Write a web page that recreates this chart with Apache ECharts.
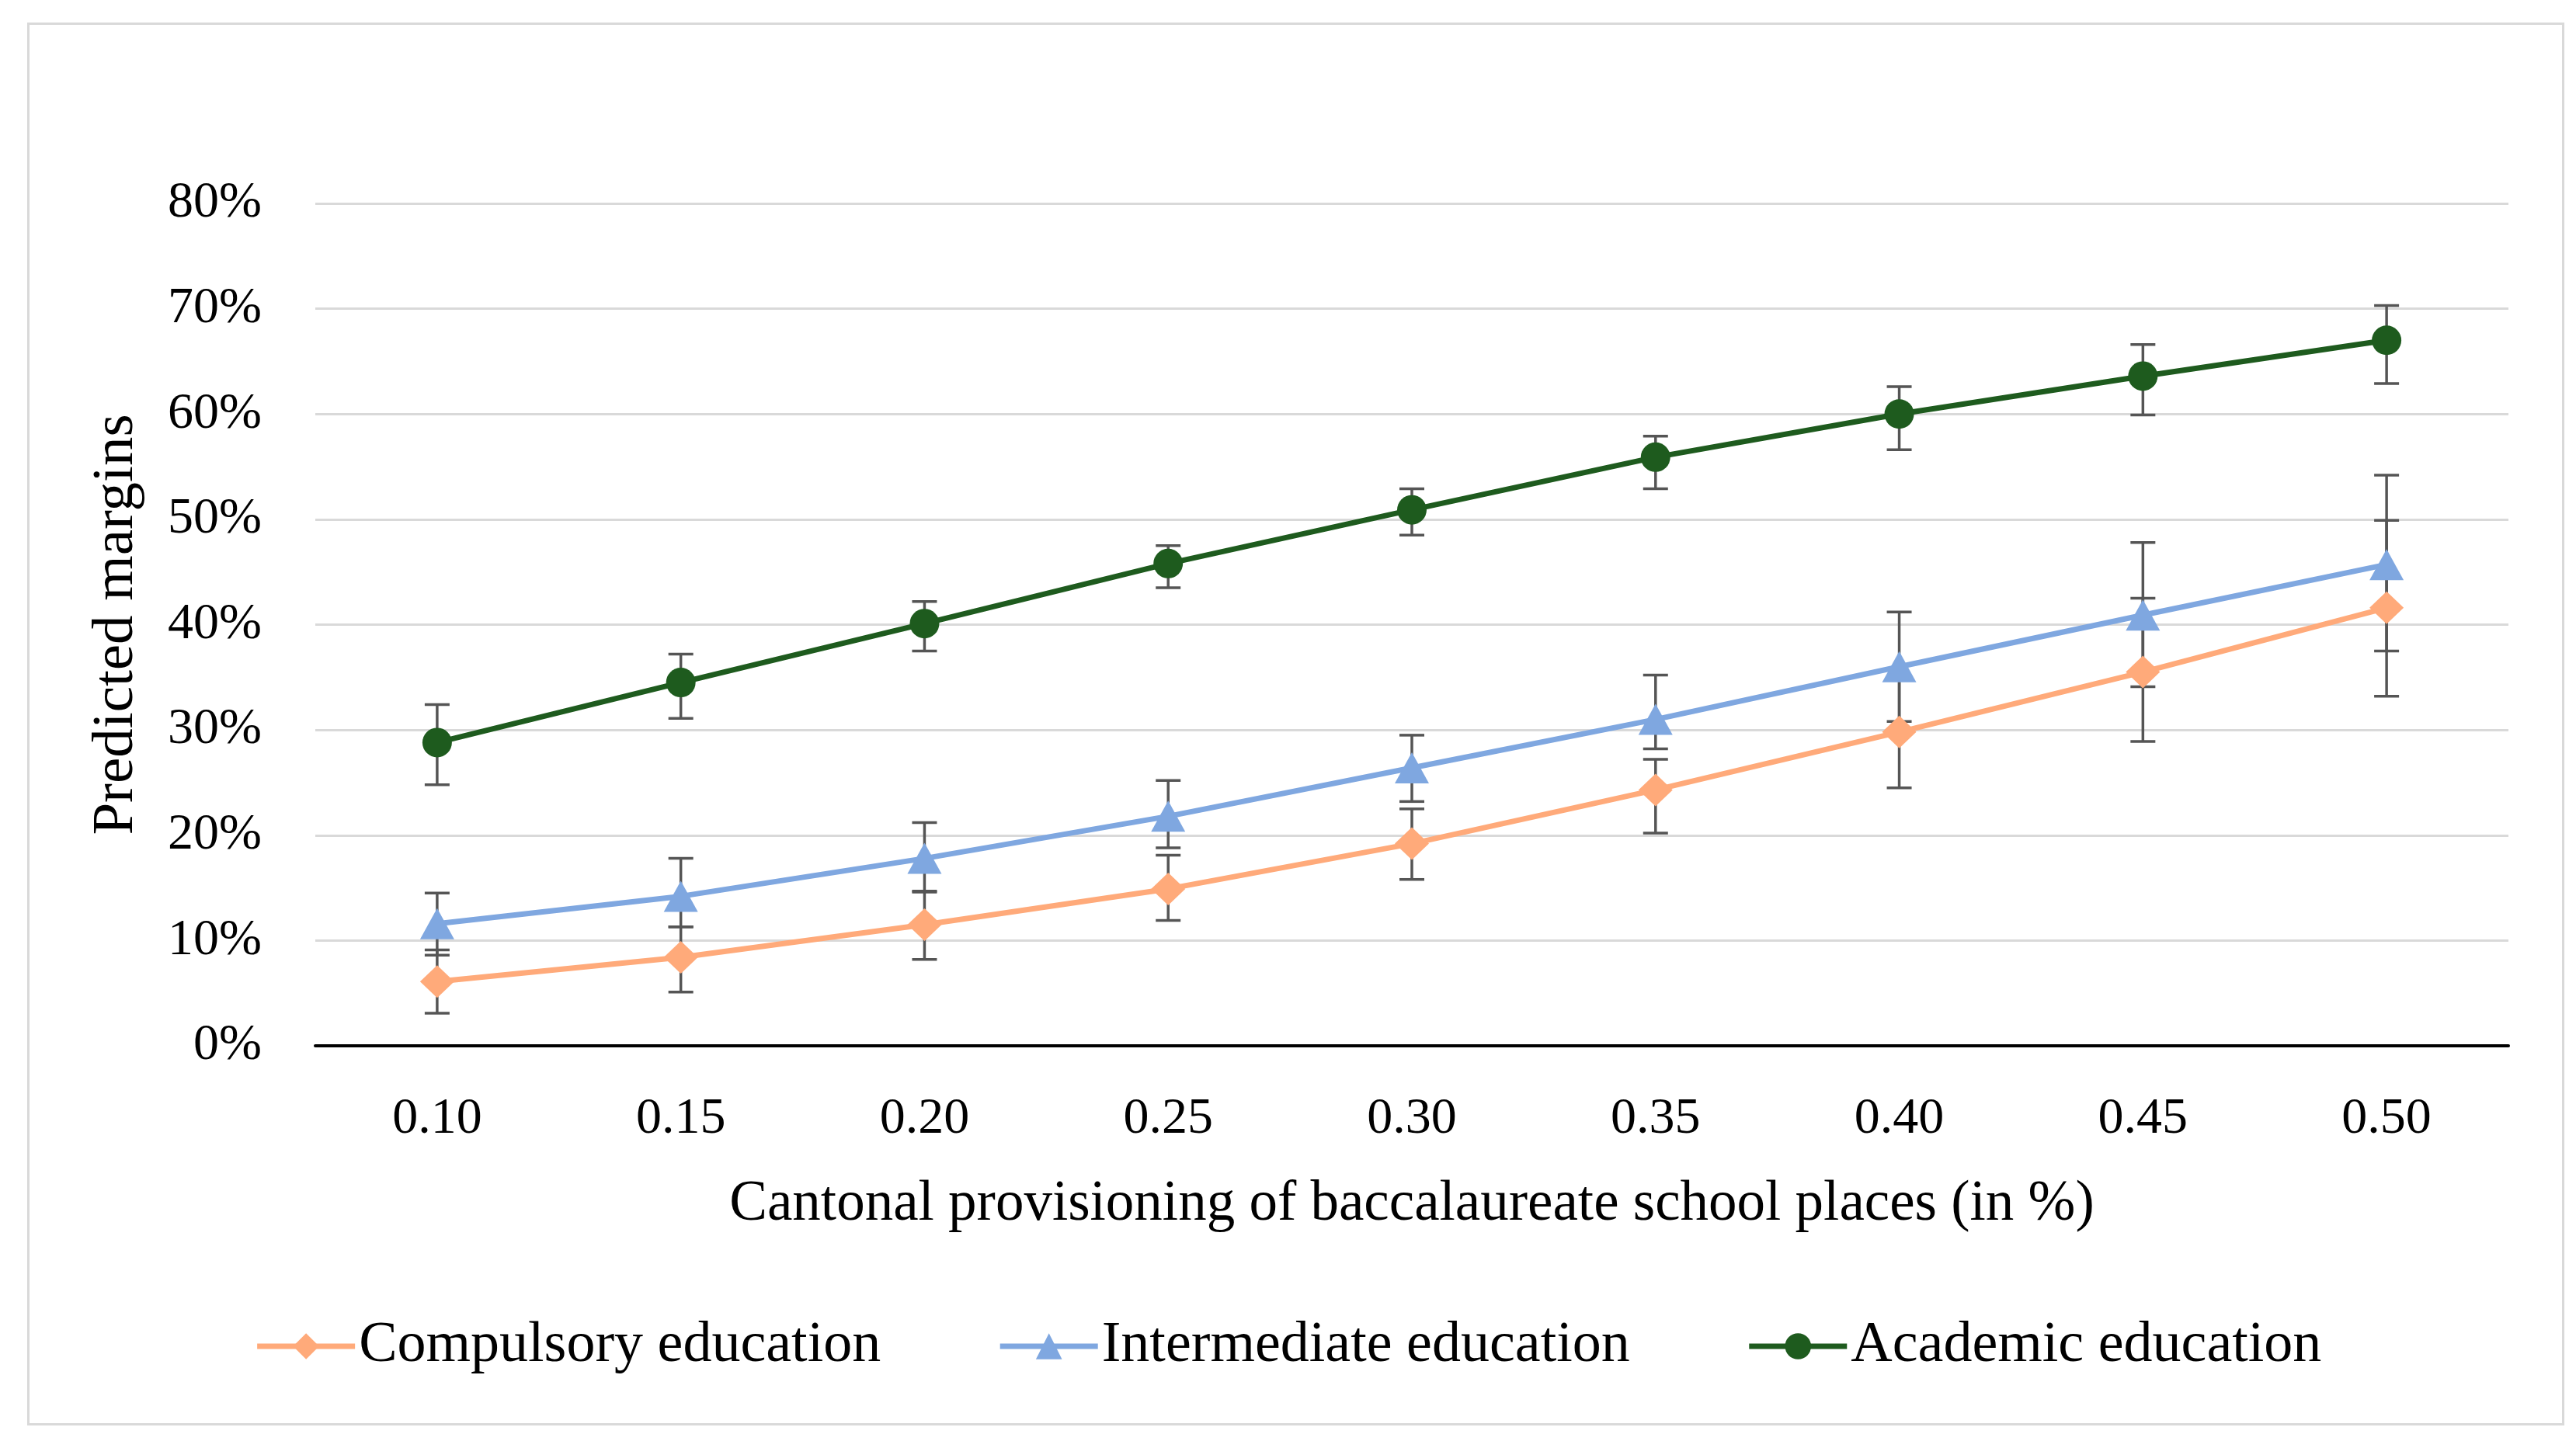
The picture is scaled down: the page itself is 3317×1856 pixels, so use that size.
<!DOCTYPE html>
<html>
<head>
<meta charset="utf-8">
<script src="https://cdn.jsdelivr.net/npm/echarts@6/dist/echarts.min.js"></script>
<style>
html,body{margin:0;padding:0;background:#fff;}
#chart{width:3317px;height:1856px;}
</style>
</head>
<body>
<div id="chart"></div>
<script>
const categories = ['0.10','0.15','0.20','0.25','0.30','0.35','0.40','0.45','0.50'];
const seriesNames = ['Compulsory education','Intermediate education','Academic education'];

const compulsory     = [6.1, 8.4, 11.5, 14.9, 19.2, 24.3, 29.8, 35.5, 41.6];
const compulsoryLow  = [3.1, 5.1, 8.2, 11.9, 15.8, 20.2, 24.5, 28.9, 33.2];
const compulsoryHigh = [9.1, 11.3, 14.7, 18.1, 22.5, 27.2, 35.1, 42.5, 49.9];

const intermediate     = [11.6, 14.2, 17.8, 21.8, 26.4, 31.0, 36.0, 40.9, 45.7];
const intermediateLow  = [8.6, 11.3, 14.6, 18.8, 23.2, 28.2, 30.8, 34.1, 37.5];
const intermediateHigh = [14.5, 17.8, 21.2, 25.2, 29.5, 35.2, 41.2, 47.8, 54.2];

const academic     = [28.8, 34.5, 40.1, 45.8, 50.9, 55.9, 60.0, 63.6, 67.0];
const academicLow  = [24.8, 31.1, 37.5, 43.5, 48.5, 52.9, 56.6, 59.9, 62.9];
const academicHigh = [32.4, 37.2, 42.2, 47.5, 52.9, 57.9, 62.6, 66.6, 70.3];

const yTicks = {min: 0, max: 80, interval: 10};

const colors = ['#FFAA7A', '#7FA7E0', '#1E5B1E'];
const errColor = '#555555';
const fontFam = '"Liberation Serif", "DejaVu Serif", serif';

function errData(low, high) {
  return categories.map((c, i) => [i, low[i], high[i]]);
}

function errSeries(low, high, z) {
  return {
    type: 'custom',
    z: z,
    silent: true,
    renderItem: function (params, api) {
      const x = api.value(0);
      const lo = api.coord([x, api.value(1)]);
      const hi = api.coord([x, api.value(2)]);
      const cap = 16;
      const style = {stroke: errColor, lineWidth: 3.5};
      return {
        type: 'group',
        children: [
          {type: 'line', shape: {x1: lo[0], y1: lo[1], x2: hi[0], y2: hi[1]}, style: style},
          {type: 'line', shape: {x1: lo[0] - cap, y1: lo[1], x2: lo[0] + cap, y2: lo[1]}, style: style},
          {type: 'line', shape: {x1: hi[0] - cap, y1: hi[1], x2: hi[0] + cap, y2: hi[1]}, style: style}
        ]
      };
    },
    data: errData(low, high)
  };
}

function lineSeries(name, data, color, symbol, size, z) {
  return {
    name: name,
    type: 'line',
    z: z,
    data: data,
    symbol: symbol,
    symbolSize: size,
    lineStyle: {color: color, width: 7},
    itemStyle: {color: color},
    emphasis: {disabled: true}
  };
}

const chart = echarts.init(document.getElementById('chart'), null, {renderer: 'canvas'});
chart.setOption({
  animation: false,
  backgroundColor: '#ffffff',
  graphic: [{
    type: 'rect',
    left: 34, top: 28,
    shape: {width: 3264, height: 1804},
    style: {fill: 'none', stroke: '#d9d9d9', lineWidth: 3},
    silent: true
  }],
  grid: {left: 406, right: 87, top: 262, bottom: 509, containLabel: false},
  legend: {
    data: seriesNames,
    bottom: 80,
    left: 'center',
    itemWidth: 126,
    itemHeight: 42,
    itemGap: 150,
    lineStyle: {width: 7},
    textStyle: {fontFamily: fontFam, fontSize: 74, color: '#000'}
  },
  xAxis: {
    type: 'category',
    data: categories,
    boundaryGap: true,
    name: 'Cantonal provisioning of baccalaureate school places (in %)',
    nameLocation: 'middle',
    nameGap: 168,
    nameTextStyle: {fontFamily: fontFam, fontSize: 73, color: '#000'},
    axisLine: {lineStyle: {color: '#000', width: 4}},
    axisTick: {show: false},
    axisLabel: {fontFamily: fontFam, fontSize: 66, color: '#000', margin: 62}
  },
  yAxis: {
    type: 'value',
    min: yTicks.min, max: yTicks.max, interval: yTicks.interval,
    name: 'Predicted margins',
    nameLocation: 'middle',
    nameGap: 218,
    nameTextStyle: {fontFamily: fontFam, fontSize: 75, color: '#000'},
    axisLine: {show: false},
    axisTick: {show: false},
    splitLine: {lineStyle: {color: '#d9d9d9', width: 3}},
    axisLabel: {fontFamily: fontFam, fontSize: 66, color: '#000', margin: 69, formatter: '{value}%'}
  },
  series: [
    errSeries(compulsoryLow, compulsoryHigh, 1),
    errSeries(intermediateLow, intermediateHigh, 1),
    errSeries(academicLow, academicHigh, 1),
    lineSeries(seriesNames[0], compulsory, colors[0], 'diamond', [44, 42], 3),
    lineSeries(seriesNames[1], intermediate, colors[1], 'triangle', [44, 40], 4),
    lineSeries(seriesNames[2], academic, colors[2], 'circle', 38, 5)
  ]
});
</script>
</body>
</html>
